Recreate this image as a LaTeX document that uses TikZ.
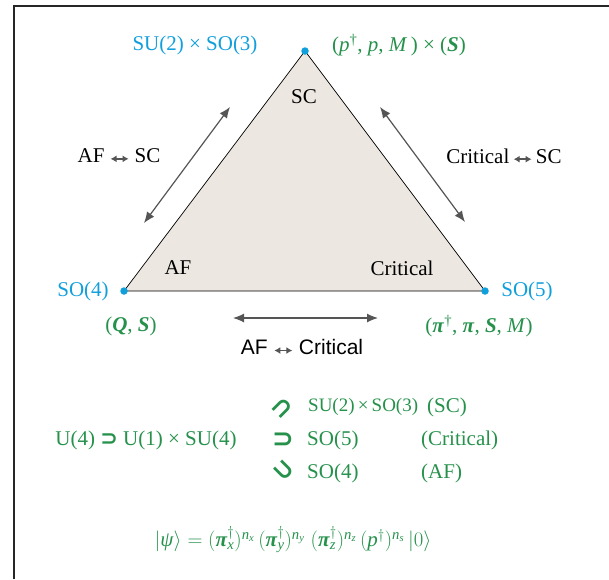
\documentclass[tikz,border=0pt]{standalone}
\usepackage{amsmath}
\usepackage{fontspec}
\setmainfont{Liberation Serif}
\setsansfont{Liberation Sans}
\newfontfamily\symfont{DejaVu Sans}
\usepackage{tikz}
\usetikzlibrary{positioning, arrows.meta, calc}
\definecolor{symblue}{HTML}{119FDC}
\definecolor{opgreen}{HTML}{25914B}
\definecolor{phasefill}{HTML}{ECE7E0}
\definecolor{arrgray}{HTML}{555555}

\newcommand{\lrarr}{\tikz[baseline=-4pt]\draw[{Latex[length=6pt,width=7pt]}-{Latex[length=6pt,width=7pt]}, arrgray, line width=1.6pt] (0pt,0pt) -- (18pt,0pt);}
\newcommand{\bi}[1]{\textbf{\textit{#1}}}
\newcommand{\dg}{\textsuperscript{†}}

\tikzset{
  vert/.style={circle, fill=symblue, inner sep=0pt, minimum size=7.5pt},
  grp/.style={text=symblue, inner sep=1pt},
  ops/.style={text=opgreen, inner sep=1pt},
  phase/.style={text=black, inner sep=1pt},
  incl/.style={text=opgreen, inner sep=0pt, font=\symfont\bfseries\fontsize{26}{26}\selectfont},
  flow/.style={{Latex[length=11pt,width=9pt]}-{Latex[length=11pt,width=9pt]}, arrgray, line width=1.2pt}
}

\begin{document}
\begin{tikzpicture}[x=1pt, y=-1pt, font=\fontsize{21}{25}\selectfont]
  \useasboundingbox (0,0) rectangle (609,579);
  % frame
  \draw[line width=2pt, black!85] (14,579) -- (14,6) -- (609,6);

  % triangle
  \coordinate (sc) at (305,51);
  \coordinate (af) at (124,291);
  \coordinate (cr) at (485,291);
  \fill[phasefill] (sc) -- (af) -- (cr) -- cycle;
  \draw[line width=0.7pt] (sc) -- (af) -- (cr) -- cycle;
  \node[vert] (scdot) at (sc) {};
  \node[vert] (afdot) at (af) {};
  \node[vert] (crdot) at (cr) {};

  % groups and operators at the corners
  \node[grp] (gsc) at (195,45) {SU(2) × SO(3)};
  \node[ops] (osc) at (399,45) {(\textit{p}\dg, \textit{p}, \textit{M}\,) × (\bi{S})};
  \node[grp] (gaf) at (83,291) {SO(4)};
  \node[ops] (oaf) at (131,326) {(\bi{Q}, \bi{S})};
  \node[grp] (gcr) at (527,291) {SO(5)};
  \node[ops] (ocr) at (479,326) {(\bi{π}\dg, \bi{π}, \bi{S}, \textit{M})};

  % phases
  \node[phase] (psc) at (304,97) {SC};
  \node[phase] (paf) at (178,268) {AF};
  \node[phase] (pcr) at (402,268) {Critical};

  % transitions
  \coordinate (l1) at (230,107);
  \coordinate (l2) at (144,223);
  \coordinate (r1) at (380,107);
  \coordinate (r2) at (465,222);
  \coordinate (b1) at (233,318);
  \coordinate (b2) at (378,318);
  \draw[flow] (l1) -- (l2);
  \draw[flow] (r1) -- (r2);
  \draw[flow] (b1) -- (b2);
  \node[phase] (tafsc) at (119,156) {AF \lrarr\ SC};
  \node[phase] (tcrsc) at (504,156) {Critical\,\lrarr\,SC};
  \node[phase, font=\fontsize{21}{25}\sffamily] (tafcr) at (302,347) {AF \lrarr\ Critical};

  % group chain
  \node[ops] (chain) at (146,440) {U(4) {\symfont\bfseries ⊃} U(1) × SU(4)};
  \node[incl, rotate=45] (sub1) at (283,409) {⊃};
  \node[incl] (sub2) at (283,440) {⊃};
  \node[incl, rotate=-45] (sub3) at (283,471) {⊃};
  \node[ops, anchor=west, font=\fontsize{19}{23}\selectfont] (c1) at (307,407) {SU(2)\,×\,SO(3)};
  \node[ops, anchor=west] (c2) at (306,440) {SO(5)};
  \node[ops, anchor=west] (c3) at (306,473) {SO(4)};
  \node[ops, anchor=west] (n1) at (426,407) {(SC)};
  \node[ops, anchor=west] (n2) at (420,440) {(Critical)};
  \node[ops, anchor=west] (n3) at (420,473) {(AF)};

  % state
  \node[ops] (state) at (293,540)
    {$|\text{\textit{ψ}}\rangle = (\text{\bi{π}}^{\dagger}_{\text{\textit{x}}})^{\text{\textit{n}}_{\text{\textit{x}}}}\,
      (\text{\bi{π}}^{\dagger}_{\text{\textit{y}}})^{\text{\textit{n}}_{\text{\textit{y}}}}\;
      (\text{\bi{π}}^{\dagger}_{\text{\textit{z}}})^{\text{\textit{n}}_{\text{\textit{z}}}}\,
      (\text{\textit{p}}^{\dagger})^{\text{\textit{n}}_{\text{\textit{s}}}}\,|0\rangle$};
\end{tikzpicture}
\end{document}
